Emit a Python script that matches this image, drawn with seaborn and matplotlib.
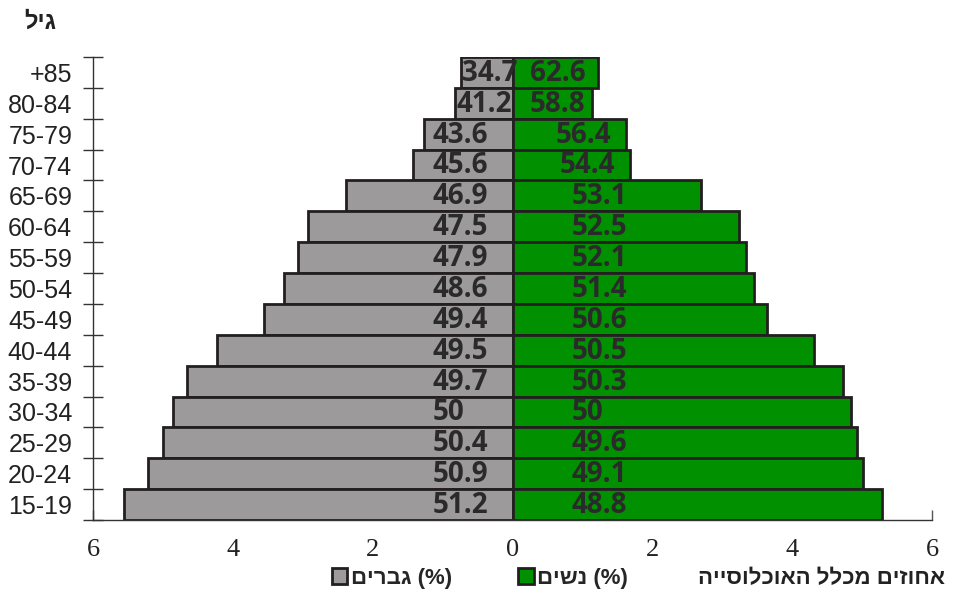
import matplotlib
matplotlib.use('Agg')
import matplotlib.pyplot as plt
import seaborn as sns
import pandas as pd
from matplotlib.patches import Patch

# age groups, top to bottom
ages = ["+85", "80-84", "75-79", "70-74", "65-69", "60-64", "55-59", "50-54",
        "45-49", "40-44", "35-39", "30-34", "25-29", "20-24", "15-19"]
# share of total population (%)
male = [0.74, 0.82, 1.27, 1.42, 2.38, 2.92, 3.07, 3.27, 3.56, 4.23, 4.66, 4.85, 5.00, 5.21, 5.55]
female = [1.22, 1.14, 1.62, 1.68, 2.69, 3.24, 3.34, 3.45, 3.64, 4.31, 4.72, 4.84, 4.92, 5.01, 5.28]
# share of men / women inside each age group (%)
male_pct = [34.7, 41.2, 43.6, 45.6, 46.9, 47.5, 47.9, 48.6, 49.4, 49.5, 49.7, 50, 50.4, 50.9, 51.2]
female_pct = [62.6, 58.8, 56.4, 54.4, 53.1, 52.5, 52.1, 51.4, 50.6, 50.5, 50.3, 50, 49.6, 49.1, 48.8]
x_ticks = [-6, -4, -2, 0, 2, 4, 6]


def heb(s):
    # matplotlib has no bidi support: hand it the visual (reversed) order
    return s[::-1]


sns.set_theme(style='white')
plt.rcParams['font.family'] = ['Liberation Sans', 'DejaVu Sans']

GRAY = '#9c9a9b'
GREEN = '#009000'
EDGE = '#231f20'
TXT = '#222222'

df = pd.DataFrame({'age': ages, 'male': [-v for v in male], 'female': female})

fig = plt.figure(figsize=(9.54, 5.98), dpi=100)
ax = fig.add_axes([0.0975, 0.1304, 0.8795, 0.7743])

sns.barplot(data=df, x='male', y='age', order=ages, orient='h', color=GRAY,
            saturation=1, width=1.0, edgecolor=EDGE, linewidth=2, errorbar=None, ax=ax)
sns.barplot(data=df, x='female', y='age', order=ages, orient='h', color=GREEN,
            saturation=1, width=1.0, edgecolor=EDGE, linewidth=2, errorbar=None, ax=ax)

# labels inside the bars
lab_kw = dict(va='center', ha='left', fontsize=20, fontweight='bold',
              family='Open Sans', color='#2a2a2a')
for i in range(len(ages)):
    xm = max(-1.15, -male[i] + 0.02)
    xf = min(0.84, max(0.25, female[i] - 1.0))
    ax.text(xm, i + 0.03, f"{male_pct[i]:g}", **lab_kw)
    ax.text(xf, i + 0.03, f"{female_pct[i]:g}", **lab_kw)

ax.set_xlim(-6, 6)
ax.set_ylim(14.5, -0.5)
ax.set_xlabel('')
ax.set_ylabel('')

# y axis: labels between ticks
ax.set_yticks(range(len(ages)))
ax.set_yticklabels(ages)
ax.set_yticks([i - 0.5 for i in range(len(ages) + 1)], minor=True)
ax.tick_params(axis='y', which='major', left=True, length=0, pad=15,
               labelsize=18, labelcolor=TXT)
ax.tick_params(axis='y', which='minor', left=True, direction='inout',
               length=15, width=1, color='#333333')

ax.set_xticks(x_ticks)
ax.set_xticklabels([str(abs(t)) for t in x_ticks], fontfamily='Liberation Serif',
                   fontsize=19, color=TXT)
ax.tick_params(axis='x', bottom=True, direction='in', length=7, width=1,
               color='#555555', pad=14)

for s in ['top', 'right']:
    ax.spines[s].set_visible(False)
for s in ['left', 'bottom']:
    ax.spines[s].set_color('#333333')
    ax.spines[s].set_linewidth(1)

# legend + axis titles
handles = [Patch(facecolor=GRAY, edgecolor=EDGE, linewidth=2, label=heb('גברים') + ' (%)'),
           Patch(facecolor=GREEN, edgecolor=EDGE, linewidth=2, label=heb('נשים') + ' (%)')]
fig.legend(handles=handles, loc='center', bbox_to_anchor=(0.503, 0.033), ncol=2,
           frameon=False, handlelength=0.7, handleheight=0.7, handletextpad=0.15,
           columnspacing=3.0,
           prop={'family': ['Liberation Sans', 'DejaVu Sans'], 'weight': 'bold', 'size': 16})

fig.text(0.991, 0.033, heb('אחוזים מכלל האוכלוסייה'), ha='right', va='center',
         fontsize=16, fontweight='bold', color=TXT)
fig.text(0.042, 0.963, heb('גיל'), ha='center', va='center',
         fontsize=17, fontweight='bold', color=TXT)

fig.savefig('out.png', dpi=100)
